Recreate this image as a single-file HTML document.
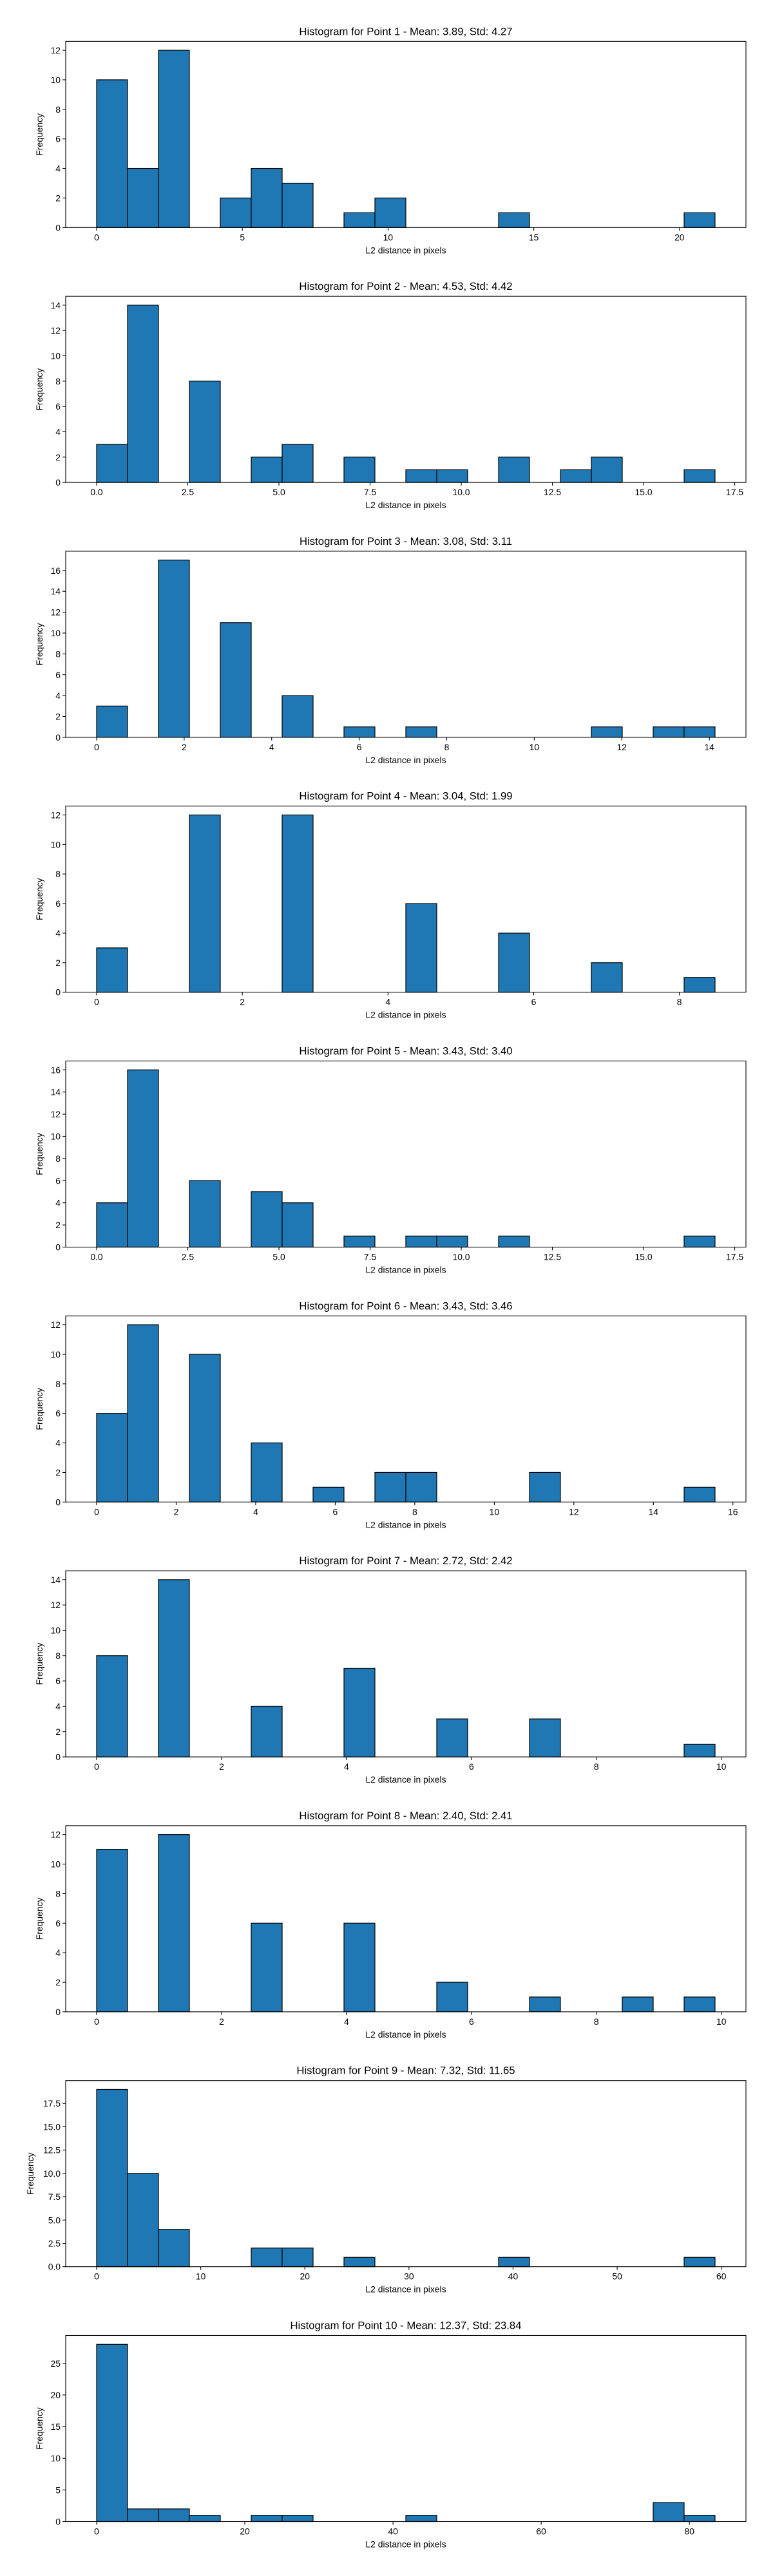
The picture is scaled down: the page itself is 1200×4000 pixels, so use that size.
<!DOCTYPE html>
<html><head><meta charset="utf-8"><title>Histograms</title>
<style>
html,body{margin:0;padding:0;background:#fff;}
svg{display:block;font-family:"Liberation Sans","DejaVu Sans",sans-serif;}
</style></head>
<body>
<svg id="fig" width="1200" height="4000" viewBox="0 0 1200 4000" xmlns="http://www.w3.org/2000/svg"></svg>
<script>
const titles = [
 "Histogram for Point 1 - Mean: 3.89, Std: 4.27",
 "Histogram for Point 2 - Mean: 4.53, Std: 4.42",
 "Histogram for Point 3 - Mean: 3.08, Std: 3.11",
 "Histogram for Point 4 - Mean: 3.04, Std: 1.99",
 "Histogram for Point 5 - Mean: 3.43, Std: 3.40",
 "Histogram for Point 6 - Mean: 3.43, Std: 3.46",
 "Histogram for Point 7 - Mean: 2.72, Std: 2.42",
 "Histogram for Point 8 - Mean: 2.40, Std: 2.41",
 "Histogram for Point 9 - Mean: 7.32, Std: 11.65",
 "Histogram for Point 10 - Mean: 12.37, Std: 23.84"
];
const dataMax = [21.22, 16.96, 14.13, 8.49, 16.96, 15.55, 9.9, 9.9, 59.4, 83.46];
const counts1 = [10,4,12,0,2,4,3,0,1,2,0,0,0,1,0,0,0,0,0,1];
const counts2 = [3,14,0,8,0,2,3,0,2,0,1,1,0,2,0,1,2,0,0,1];
const counts3 = [3,0,17,0,11,0,4,0,1,0,1,0,0,0,0,0,1,0,1,1];
const counts4 = [3,0,0,12,0,0,12,0,0,0,6,0,0,4,0,0,2,0,0,1];
const counts5 = [4,16,0,6,0,5,4,0,1,0,1,1,0,1,0,0,0,0,0,1];
const counts6 = [6,12,0,10,0,4,0,1,0,2,2,0,0,0,2,0,0,0,0,1];
const counts7 = [8,0,14,0,0,4,0,0,7,0,0,3,0,0,3,0,0,0,0,1];
const counts8 = [11,0,12,0,0,6,0,0,6,0,0,2,0,0,1,0,0,1,0,1];
const counts9 = [19,10,4,0,0,2,2,0,1,0,0,0,0,1,0,0,0,0,0,1];
const counts10 = [28,2,2,1,0,1,1,0,0,0,1,0,0,0,0,0,0,0,3,1];
const allCounts = [counts1,counts2,counts3,counts4,counts5,counts6,counts7,counts8,counts9,counts10];
const xTicks = [
 [0,5,10,15,20],
 [0,2.5,5,7.5,10,12.5,15,17.5],
 [0,2,4,6,8,10,12,14],
 [0,2,4,6,8],
 [0,2.5,5,7.5,10,12.5,15,17.5],
 [0,2,4,6,8,10,12,14,16],
 [0,2,4,6,8,10],
 [0,2,4,6,8,10],
 [0,10,20,30,40,50,60],
 [0,20,40,60,80]
];
const xTickDecimals = [0,1,0,0,1,0,0,0,0,0];
const yTicks = [
 [0,2,4,6,8,10,12],
 [0,2,4,6,8,10,12,14],
 [0,2,4,6,8,10,12,14,16],
 [0,2,4,6,8,10,12],
 [0,2,4,6,8,10,12,14,16],
 [0,2,4,6,8,10,12],
 [0,2,4,6,8,10,12,14],
 [0,2,4,6,8,10,12],
 [0,2.5,5,7.5,10,12.5,15,17.5],
 [0,5,10,15,20,25]
];
const yTickDecimals = [0,0,0,0,0,0,0,0,1,0];

const NS = "http://www.w3.org/2000/svg";
const fig = document.getElementById("fig");
function mk(tag, attrs, parent){
  const e = document.createElementNS(NS, tag);
  for (const k in attrs) e.setAttribute(k, attrs[k]);
  parent.appendChild(e);
  return e;
}
const L = 102, R = 1158, H = 289;
const CX = (L + R) / 2;
for (let c = 0; c < 10; c++) {
  const top = 64.3 + c * 395.8, bottom = top + H;
  const counts = allCounts[c];
  const dmax = dataMax[c];
  const xmin = -0.05 * dmax, xmax = 1.05 * dmax;
  const ymax = 1.05 * Math.max.apply(null, counts);
  const xs = v => L + (v - xmin) / (xmax - xmin) * (R - L);
  const ys = v => bottom - v / ymax * H;
  const g = mk("g", {}, fig);
  
  
  const t = mk("text", {x: CX, y: top - 10, "text-anchor": "middle", "font-size": "16.7"}, g);
  t.textContent = titles[c];
  
  
  const n = counts.length, bw = dmax / n;
  for (let i = 0; i < n; i++) {
    const x0 = xs(i * bw), x1 = xs((i + 1) * bw), y0 = ys(counts[i]);
    const r = mk("rect", {x: x0, y: y0, width: x1 - x0, height: bottom - y0, fill: "#1f77b4", stroke: "#000", "stroke-width": "1.2"}, g);
    
    
  }
  const frame = mk("rect", {x: L, y: top, width: R - L, height: H, fill: "none", stroke: "#000", "stroke-width": "1.1"}, g);
  
  
  xTicks[c].forEach(v => {
    const x = xs(v);
    mk("line", {x1: x, x2: x, y1: bottom, y2: bottom + 4.9, stroke: "#000", "stroke-width": "1.1"}, g);
    const tl = mk("text", {x: x, y: bottom + 20, "text-anchor": "middle", "font-size": "13.9"}, g);
    tl.textContent = v.toFixed(xTickDecimals[c]);
    
    
  });
  yTicks[c].forEach(v => {
    const y = ys(v);
    mk("line", {x1: L - 4.9, x2: L, y1: y, y2: y, stroke: "#000", "stroke-width": "1.1"}, g);
    const tl = mk("text", {x: L - 8, y: y + 5, "text-anchor": "end", "font-size": "13.9"}, g);
    tl.textContent = v.toFixed(yTickDecimals[c]);
    
    
  });
  const xl = mk("text", {x: CX, y: bottom + 40, "text-anchor": "middle", "font-size": "13.9"}, g);
  xl.textContent = "L2 distance in pixels";
  
  
  const yx = c === 8 ? 52 : 66;
  const yl = mk("text", {x: yx, y: top + H / 2, "text-anchor": "middle", "font-size": "13.9", transform: "rotate(-90 " + yx + " " + (top + H / 2) + ")"}, g);
  yl.textContent = "Frequency";
  
  
}
</script>
</body></html>
